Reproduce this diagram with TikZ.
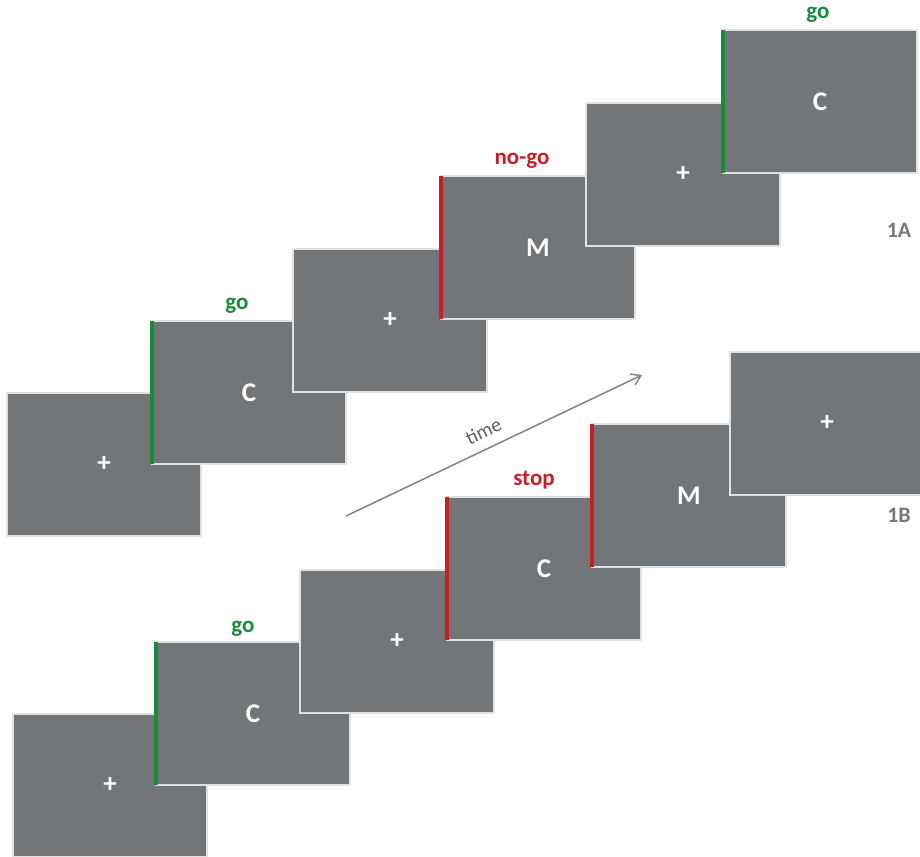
\documentclass[tikz,border=0pt]{standalone}
\usepackage{fontspec}
\setmainfont{Carlito}
\usetikzlibrary{arrows.meta}
\definecolor{scrgray}{RGB}{115,118,120}
\definecolor{edgegray}{RGB}{225,225,225}
\definecolor{gogreen}{RGB}{25,140,60}
\definecolor{stopred}{RGB}{200,30,40}
\definecolor{labgray}{RGB}{120,120,120}
\definecolor{timegray}{RGB}{95,95,95}
\definecolor{arrgray}{RGB}{130,130,130}
\tikzset{
  screen/.style={draw=edgegray, line width=1.2pt, fill=scrgray, anchor=north west,
    minimum width=194pt, minimum height=143pt, inner sep=0pt, outer sep=0pt,
    text=white, font=\bfseries\fontsize{27}{27}\selectfont},
  goline/.style={draw=gogreen, line width=3.5pt},
  stopline/.style={draw=stopred, line width=3.5pt},
  golab/.style={text=gogreen, anchor=base, font=\bfseries\fontsize{23}{23}\selectfont},
  stoplab/.style={text=stopred, anchor=base, font=\bfseries\fontsize{23}{23}\selectfont},
  panellab/.style={text=labgray, anchor=base, font=\bfseries\fontsize{22}{22}\selectfont},
  timearrow/.style={draw=arrgray, line width=1.5pt, -{Straight Barb[length=9pt,width=12pt]}}
}
\begin{document}
\begin{tikzpicture}[x=1pt,y=-1pt]
\useasboundingbox (0,0) rectangle (920,856);
% ---- 1A ----
\node[screen] (a1) at (7,393) {+};
\node[screen] (a2) at (152,321) {C};
\node[screen] (a3) at (293,249) {+};
\node[screen] (a4) at (441,176) {M};
\node[screen] (a5) at (586,103) {+};
\node[screen] (a6) at (723,30) {C};
\draw[goline] (a2.north west) -- (a2.south west);
\draw[stopline] (a4.north west) -- (a4.south west);
\draw[goline] (a6.north west) -- (a6.south west);
\node[golab] (la2) at (237,309) {go};
\node[stoplab] (la4) at (522,164) {no-go};
\node[golab] (la6) at (818,19) {go};
\node[panellab] (p1a) at (899,237) {1A};
% ---- 1B ----
\node[screen] (b1) at (13,714) {+};
\node[screen] (b2) at (156,642) {C};
\node[screen] (b3) at (300,570) {+};
\node[screen] (b4) at (447,497) {C};
\node[screen] (b5) at (592,424) {M};
\node[screen] (b6) at (730,352) {+};
\draw[goline] (b2.north west) -- (b2.south west);
\draw[stopline] (b4.north west) -- (b4.south west);
\draw[stopline] (b5.north west) -- (b5.south west);
\node[golab] (lb2) at (243,632) {go};
\node[stoplab] (lb4) at (534,485) {stop};
\node[panellab] (p1b) at (899,522) {1B};
% ---- time arrow ----
\coordinate (ts) at (346,516);
\coordinate (te) at (642,375);
\draw[timearrow] (ts) -- node[pos=0.49, sloped, above=10pt, inner sep=0pt, text=timegray, font=\fontsize{20}{20}\selectfont] (tl) {time} (te);
\end{tikzpicture}
\end{document}
